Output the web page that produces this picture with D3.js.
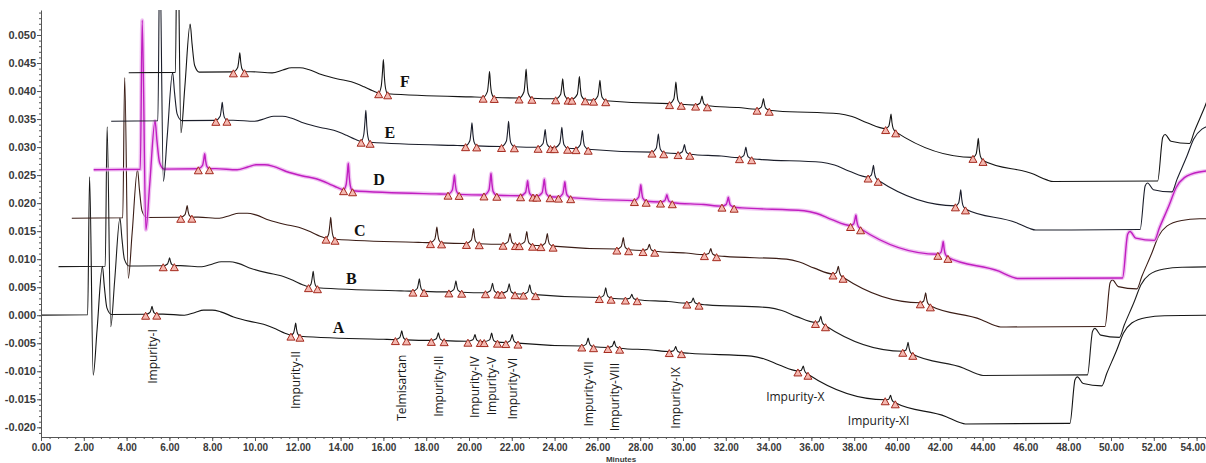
<!DOCTYPE html>
<html>
<head>
<meta charset="utf-8">
<script src="https://cdn.jsdelivr.net/npm/d3@7"></script>
<style>
  html, body { margin: 0; padding: 0; background: #fff; }
  svg { display: block; }
</style>
</head>
<body>
<svg id="chart" width="1206" height="463"></svg>
<script>
// Overlaid HPLC chromatograms A–F (AU vs. minutes). Each run is displayed
// with a fixed time / absorbance offset from the previous one.

const traceNames = ["A", "B", "C", "D", "E", "F"];
const overlayStepMin = 0.82;      // time offset between successive runs
const overlayStepAU = 0.00865;    // absorbance offset between successive runs
const traceStartMin = [0, 0, -0.2, 0, 0, 0];

// Gradient baseline common to every run (run time, AU relative to run start)
const baselineTime = [-0.5, 5.7, 6.7, 7.2, 7.6, 8.0, 8.4, 9.0, 9.77, 10.4, 11.0, 11.4, 11.8, 16.0, 20.7, 25.3, 28.5,
  30.3, 33.2, 33.8, 34.5, 35.5, 39.7, 42.3, 42.9, 43.2, 48.08, 48.32, 48.43, 48.7, 49.57, 49.8,
  50.27, 50.58, 50.97, 51.67, 52.5, 54.6];
const baselineAU = [0, 0.0002, 0, 0.0005, 0.0009, 0.0009, 0.0006, -0.0003, -0.0011, -0.0016, -0.0025, -0.0032, -0.0037,
  -0.0043, -0.0047, -0.0055, -0.0062, -0.0068, -0.0073, -0.0078, -0.0089, -0.0101, -0.0154, -0.0181,
  -0.0191, -0.0194, -0.0193, -0.0115, -0.0110, -0.0122, -0.0126, -0.0104, -0.0062, -0.0032, -0.0014,
  -0.0004, -0.0001, 0.0000];

// Injection disturbance near the solvent front
const injectionTime = [2.18, 2.27, 2.44, 2.62, 2.87, 2.96, 3.08, 3.3];
const injectionSpikeAU = [0.0246, 0.0249, 0.0250, 0.0266, 0.0300, 0.0300];
const injectionTailAU = [-0.0108, -0.0027, 0.0086, 0.0050, 0.0012, 0.0];

// Integrated peaks (retention time in run A, integration start / end relative to apex)
const peakNames = ["Impurity-I", "Impurity-II", "Telmisartan", "Impurity-III", "Impurity-IV", "Impurity-V",
  "Impurity-VI", "Impurity-VII", "Impurity-VIII", "Impurity-IX", "Impurity-X", "Impurity-XI"];
const peakTime = [5.19, 11.90, 16.86, 18.57, 20.28, 21.06, 22.02, 25.57, 26.79, 29.66, 35.62, 39.70];
const peakStart = [-0.30, -0.22, -0.30, -0.33, -0.33, -0.35, -0.30, -0.30, -0.30, -0.30, -0.25, -0.25];
const peakEnd = [0.22, 0.20, 0.22, 0.27, 0.25, 0.27, 0.27, 0.25, 0.25, 0.27, 0.22, 0.22];

// Peak heights above baseline (AU) for each run
const heightsA = [0.0014, 0.0023, 0.0016, 0.0014, 0.0012, 0.0016, 0.0015, 0.0015, 0.0012, 0.0010, 0.0012, 0.0011];
const heightsB = [0.0014, 0.0029, 0.0022, 0.0020, 0.0017, 0.0017, 0.0017, 0.0018, 0.0009, 0.0010, 0.0014, 0.0019];
const heightsC = [0.0021, 0.0039, 0.0028, 0.0027, 0.0020, 0.0024, 0.0022, 0.0021, 0.0012, 0.0012, 0.0017, 0.0021];
const heightsD = [0.0027, 0.0049, 0.0034, 0.0039, 0.0027, 0.0031, 0.0028, 0.0029, 0.0014, 0.0017, 0.0022, 0.0026];
const heightsE = [0.0032, 0.0057, 0.0041, 0.0045, 0.0032, 0.0037, 0.0033, 0.0033, 0.0017, 0.0020, 0.0024, 0.0032];
const heightsF = [0.0034, 0.0061, 0.0046, 0.0052, 0.0036, 0.0041, 0.0036, 0.0039, 0.0017, 0.0020, 0.0029, 0.0037];
const peakHeights = [heightsA, heightsB, heightsC, heightsD, heightsE, heightsF];

// Typical peak profile around the apex (minutes from apex, fraction of height)
const peakShapeDt = [-0.10, -0.04, 0, 0.045, 0.10];
const peakShapeFrac = [0.22, 0.65, 1, 0.50, 0.16];

// Axis ticks
const yTicks = d3.range(-0.020, 0.0501, 0.005);
const yMinorTicks = d3.range(-0.021, 0.0545, 0.001);
const xTicks = d3.range(0, 54.001, 2);
const xMinorTicks = d3.range(0, 54.44, 0.4);

// Run label anchors (minutes, AU)
const runLabelTime = [13.9, 14.5, 14.9, 15.8, 16.3, 17.0];
const runLabelAU = [-0.0031, 0.0056, 0.0141, 0.0232, 0.0316, 0.0408];

// ---------------------------------------------------------------------------
const svg = d3.select("#chart");
const plot = { left: 41, right: 1206, top: 10, bottom: 437 };

const x = d3.scaleLinear().domain([0, 54.44]).range([plot.left, plot.right]);
const y = d3.scaleLinear().domain([-0.02173, 0.05446]).range([plot.bottom, plot.top]);
const baselineAt = d3.scaleLinear().domain(baselineTime).range(baselineAU).clamp(true);

svg.append("defs").append("clipPath").attr("id", "plotClip")
  .append("rect").attr("x", plot.left + 1).attr("y", plot.top)
  .attr("width", plot.right - plot.left).attr("height", plot.bottom - plot.top);

// Build the point list of one run in its own time frame
function runPoints(i) {
  const heights = peakHeights[i];
  const windows = [[injectionTime[0], injectionTime[injectionTime.length - 1]]];
  peakTime.forEach((t, k) => windows.push([t + peakStart[k], t + peakEnd[k]]));
  const inWindow = t => windows.some(w => t >= w[0] && t <= w[1]);

  const pts = [];
  pts.push({ t: traceStartMin[i], v: baselineAt(traceStartMin[i]) });
  baselineTime.forEach((t, k) => {
    if (t > traceStartMin[i] && !inWindow(t)) pts.push({ t, v: baselineAU[k] });
  });
  const injAU = [0, injectionSpikeAU[i], ...injectionTailAU];
  injectionTime.forEach((t, k) => pts.push({ t, v: baselineAt(t) + injAU[k] }));
  peakTime.forEach((t0, k) => {
    const h = heights[k];
    pts.push({ t: t0 + peakStart[k], v: baselineAt(t0 + peakStart[k]) });
    peakShapeDt.forEach((dt, j) => pts.push({ t: t0 + dt, v: baselineAt(t0 + dt) + h * peakShapeFrac[j] }));
    pts.push({ t: t0 + peakEnd[k], v: baselineAt(t0 + peakEnd[k]) });
  });
  pts.sort((a, b) => a.t - b.t);
  return pts;
}

const traceColors = ["#151515", "#1e1e1e", "#3b1d16", "#c01ec0", "#1b1e2b", "#151515"];
const traces = svg.append("g").attr("clip-path", "url(#plotClip)");

traceNames.forEach((name, i) => {
  const dT = i * overlayStepMin, dV = i * overlayStepAU;
  const line = d3.line()
    .x(d => x(d.t + dT))
    .y(d => y(d.v + dV))
    .curve(d3.curveMonotoneX);
  const pts = runPoints(i);
  if (name === "D") {
    traces.append("path").attr("d", line(pts)).attr("fill", "none")
      .attr("stroke", "#eaa8ec").attr("stroke-width", 4).attr("stroke-opacity", 0.7)
      .attr("stroke-linejoin", "round");
  }
  traces.append("path").attr("d", line(pts)).attr("fill", "none")
    .attr("stroke", traceColors[i]).attr("stroke-width", name === "D" ? 1.4 : 1.1)
    .attr("stroke-linejoin", "round");
});

// Integration markers (peak start / end)
const markers = svg.append("g").attr("clip-path", "url(#plotClip)");
traceNames.forEach((name, i) => {
  const dT = i * overlayStepMin, dV = i * overlayStepAU;
  peakTime.forEach((t0, k) => {
    [peakStart[k], peakEnd[k]].forEach(off => {
      const t = t0 + off;
      const cx = x(t + dT), cy = y(baselineAt(t) + dV) + 1.5;
      markers.append("path")
        .attr("d", `M${cx - 4},${cy + 3.5}L${cx},${cy - 3.5}L${cx + 4},${cy + 3.5}Z`)
        .attr("fill", "#f4b9b1").attr("stroke", "#a42a1e").attr("stroke-width", 1)
        .attr("stroke-linejoin", "miter");
    });
  });
});

// Run labels
traceNames.forEach((name, i) => {
  svg.append("text")
    .attr("x", x(runLabelTime[i])).attr("y", y(runLabelAU[i]))
    .attr("text-anchor", "middle")
    .attr("font-family", "'Liberation Serif', 'Times New Roman', serif")
    .attr("font-weight", "bold").attr("font-size", 16).attr("fill", "#111")
    .text(name);
});

// Peak identification (under run A)
const labelFont = "'Open Sans', 'Noto Sans', sans-serif";
peakNames.forEach((label, k) => {
  const px = x(peakTime[k]);
  const py = y(baselineAt(peakTime[k]));
  if (k < 10) {
    svg.append("text")
      .attr("transform", `translate(${px + 4.5},${py + 15}) rotate(-90)`)
      .attr("text-anchor", "end")
      .attr("font-family", labelFont).attr("font-size", 12).attr("fill", "#1a1a1a")
      .text(label);
  } else {
    const shift = k === 10 ? [-8, 28] : [-12, 23];
    svg.append("text")
      .attr("x", px + shift[0]).attr("y", py + shift[1])
      .attr("text-anchor", "middle")
      .attr("font-family", labelFont).attr("font-size", 12).attr("fill", "#1a1a1a")
      .text(label);
  }
});

// Axes
const axisFont = "'Liberation Sans', Arial, sans-serif";
const fmtY = v => d3.format(".3f")(v).replace("\u2212", "-");

const yMinor = svg.append("g").attr("transform", `translate(${plot.left},0)`)
  .call(d3.axisLeft(y).tickValues(yMinorTicks).tickSize(2).tickFormat(""));
yMinor.select(".domain").remove();

const yAxis = svg.append("g").attr("transform", `translate(${plot.left},0)`)
  .call(d3.axisLeft(y).tickValues(yTicks).tickSize(4).tickSizeOuter(0).tickPadding(1).tickFormat(fmtY));
yAxis.selectAll("text").attr("font-family", axisFont).attr("font-size", 11)
  .attr("font-weight", "bold").attr("fill", "#3a3a3a");

const xMinor = svg.append("g").attr("transform", `translate(0,${plot.bottom})`)
  .call(d3.axisBottom(x).tickValues(xMinorTicks).tickSize(2).tickFormat(""));
xMinor.select(".domain").remove();

const xAxis = svg.append("g").attr("transform", `translate(0,${plot.bottom})`)
  .call(d3.axisBottom(x).tickValues(xTicks).tickSize(4).tickSizeOuter(0).tickPadding(3)
    .tickFormat(d3.format(".2f")));
xAxis.selectAll("text").attr("font-family", axisFont).attr("font-size", 10)
  .attr("font-weight", "bold").attr("fill", "#3a3a3a");
// keep the last tick label inside the frame
xAxis.selectAll(".tick").filter(d => d === 54).select("text")
  .attr("text-anchor", "end").attr("x", 8.5);

svg.selectAll(".domain, .tick line").attr("stroke", "#555");

svg.append("text")
  .attr("x", 621).attr("y", 462).attr("text-anchor", "middle")
  .attr("font-family", axisFont).attr("font-size", 8).attr("font-weight", "bold").attr("fill", "#3a3a3a")
  .text("Minutes");
</script>
</body>
</html>
